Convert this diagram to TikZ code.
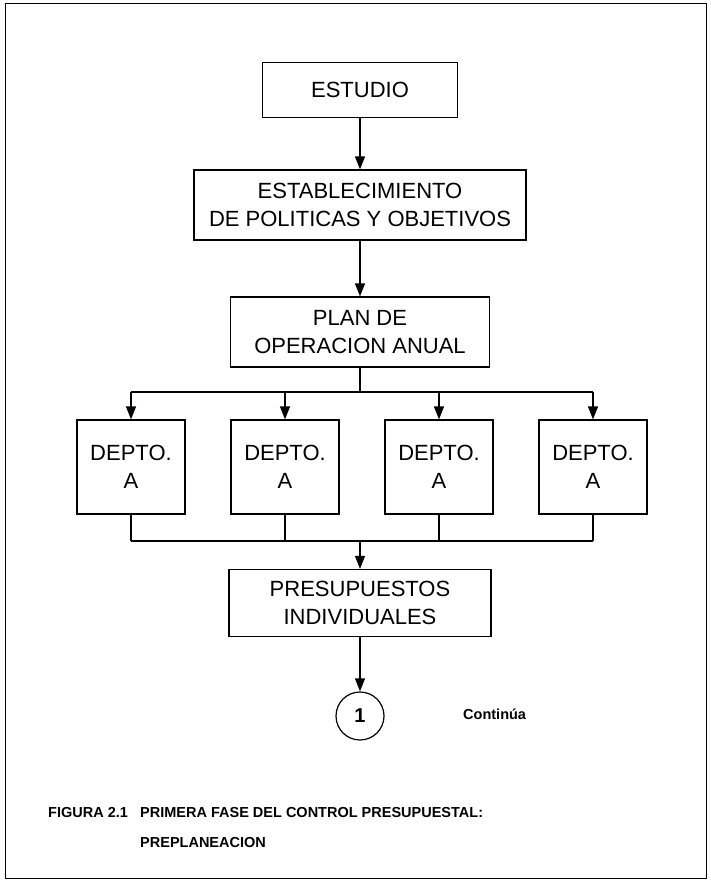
\documentclass[tikz,border=0pt]{standalone}
\usepackage{fontspec}
\setmainfont{Liberation Sans}
\usetikzlibrary{arrows.meta}

\tikzset{
  caja/.style={draw, line width=1.2pt, inner sep=0pt, align=center, font=\fontsize{22}{28}\selectfont},
  linea/.style={line width=1.2pt},
  flecha/.style={line width=1.2pt, -{Triangle[length=13pt, width=10pt]}},
  pie/.style={anchor=west, inner sep=0pt, font=\bfseries\fontsize{14.5}{17}\selectfont}
}

\begin{document}
\begin{tikzpicture}[x=1pt, y=-1pt]
  \useasboundingbox (0,0) rectangle (710,884);
  % Marco
  \draw[line width=1pt] (5,3) rectangle (706,878);

  % Cajas
  \node[caja, minimum width=195pt, minimum height=55pt] (estudio) at (360,90) {ESTUDIO};
  \node[caja, minimum width=332pt, minimum height=70pt] (politicas) at (360,205) {ESTABLECIMIENTO\\DE POLITICAS Y OBJETIVOS};
  \node[caja, minimum width=259pt, minimum height=70pt] (plan) at (360,332) {PLAN DE\\OPERACION ANUAL};
  \foreach \i/\x in {1/131, 2/285, 3/439, 4/593}
    \node[caja, minimum width=108pt, minimum height=94pt] (depto\i) at (\x,467) {DEPTO.\\A};
  \node[caja, minimum width=262pt, minimum height=67pt] (presupuestos) at (360,603) {PRESUPUESTOS\\INDIVIDUALES};
  \node[circle, draw, linea, minimum size=48pt, inner sep=0pt, font=\bfseries\fontsize{20}{24}\selectfont] (uno) at (360,716) {1};

  % Coordenadas de las barras
  \coordinate (arriba) at (360,392);
  \coordinate (abajo) at (360,541);

  % Conexiones
  \draw[flecha] (estudio) -- (politicas);
  \draw[flecha] (politicas) -- (plan);
  \draw[linea] (plan.south) -- (arriba);
  \draw[linea] (depto1.north |- arriba) -- (depto4.north |- arriba);
  \foreach \i in {1,...,4} {
    \draw[flecha] (depto\i.north |- arriba) -- (depto\i.north);
    \draw[linea] (depto\i.south) -- (depto\i.south |- abajo);
  }
  \draw[linea] (depto1.south |- abajo) -- (depto4.south |- abajo);
  \draw[flecha] (abajo) -- (presupuestos.north);
  \draw[flecha] (presupuestos.south) -- (uno.north);

  % Textos
  \node[pie] (continua) at (463,714) {Continúa};
  \node[pie] (figura) at (48,812) {FIGURA 2.1};
  \node[pie] (titulo) at (140,812) {PRIMERA FASE DEL CONTROL PRESUPUESTAL:};
  \node[pie] (subtitulo) at (140,842) {PREPLANEACION};
\end{tikzpicture}
\end{document}
